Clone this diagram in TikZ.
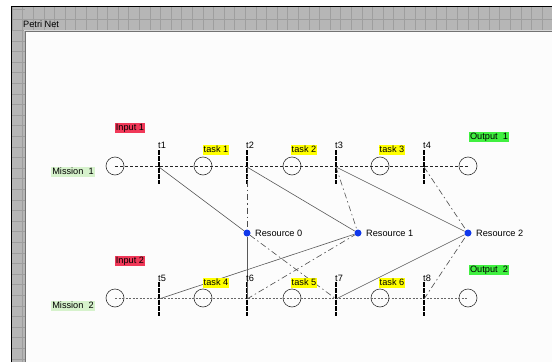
\documentclass[tikz,border=0pt]{standalone}
\usepackage{fontspec}
\setmainfont{Liberation Sans}
\definecolor{panel}{RGB}{182,182,182}
\definecolor{gridc}{RGB}{158,158,158}
\definecolor{inred}{RGB}{240,56,88}
\definecolor{outgreen}{RGB}{64,240,64}
\definecolor{misgreen}{RGB}{214,242,204}
\definecolor{taskyel}{RGB}{255,255,0}
\definecolor{resblue}{RGB}{16,56,235}
\definecolor{paper}{RGB}{252,252,252}
\begin{document}
\begin{tikzpicture}[x=1pt,y=-1pt,font=\fontsize{9.2}{10}\selectfont,
  place/.style={circle,draw=black!80,line width=0.6pt,minimum size=18pt,inner sep=0pt},
  trans/.style={inner sep=0pt,minimum width=3pt,minimum height=33pt},
  tbar/.style={line width=2.8pt,dash pattern=on 4.5pt off 1.5pt},
  res/.style={circle,fill=resblue,minimum size=7pt,inner sep=0pt},
  lab/.style={inner sep=0.8pt,text height=6.8pt,text depth=1.6pt},
  tlab/.style={inner sep=0pt,anchor=south west},
  consume/.style={draw=black!65,line width=0.6pt},
  release/.style={draw=black!70,line width=0.6pt,dash pattern=on 6pt off 3pt on 1.5pt off 3pt},
  row1/.style={draw=black!85,line width=0.6pt,dash pattern=on 3pt off 2pt},
  row2/.style={draw=black!60,line width=0.7pt,dash pattern=on 2pt off 1.5pt}]
\useasboundingbox (0,0) rectangle (552,362);
\fill[white] (0,0) rectangle (552,362);
% panel
\fill[panel] (12,7) rectangle (552,362);
\foreach \i in {0,...,51} {\draw[gridc,line width=0.5pt] ({12+10.6*\i},7) -- ({12+10.6*\i},31);}
\foreach \j in {0,...,33} {\draw[gridc,line width=0.5pt] (12,{9+10.6*\j}) -- (25,{9+10.6*\j});}
\draw[gridc,line width=0.5pt] (12,19) -- (552,19);
\draw[gridc,line width=0.5pt] (22.5,31) -- (22.5,362);
\draw[black,line width=1.4pt] (11.3,362) -- (11.3,6.3) -- (552,6.3);
\node[inner sep=0pt,anchor=west] (title) at (23,24) {Petri Net};
\fill[white!85!black] (24,30) rectangle (552,31);
\fill[paper] (25,31) rectangle (552,362);
\draw[black!55,line width=0.8pt] (25,362) -- (25,31.4) -- (552,31.4);
% row 1
\node[place] (m1) at (115,166) {};
\node[place] (p1) at (203,166) {};
\node[place] (p2) at (292,166) {};
\node[place] (p3) at (380,166) {};
\node[place] (o1) at (468,166) {};
\node[trans] (t1) at (159,167) {};
\node[trans] (t2) at (247,167) {};
\node[trans] (t3) at (336,167) {};
\node[trans] (t4) at (424,167) {};
% row 2
\node[place] (m2) at (115,298) {};
\node[place] (p4) at (203,298) {};
\node[place] (p5) at (292,298) {};
\node[place] (p6) at (380,298) {};
\node[place] (o2) at (468,298) {};
\node[trans] (t5) at (159,299) {};
\node[trans] (t6) at (247,299) {};
\node[trans] (t7) at (336,299) {};
\node[trans] (t8) at (424,299) {};
% resources
\node[res,label={[label distance=1pt]right:Resource 0}] (r0) at (247,233) {};
\node[res,label={[label distance=1pt]right:Resource 1}] (r1) at (358,233) {};
\node[res,label={[label distance=1pt]right:Resource 2}] (r2) at (468,233) {};
% row lines
\draw[row1] (m1.center) -- (o1.center);
\draw[row2] (m2.center) -- (o2.center);
% bars
\foreach \t in {t1,t2,t3,t4,t5,t6,t7,t8} {\draw[tbar] (\t.north) -- (\t.south);}
% arcs
\draw[consume] (t1.center) -- (r0);
\draw[release] (t2.center) -- (r0);
\draw[consume] (t2.center) -- (r1);
\draw[release] (t3.center) -- (r1);
\draw[consume] (t3.center) -- (r2);
\draw[release] (t4.center) -- (r2);
\draw[consume] (t5.center) -- (r1);
\draw[consume] (r0) -- (t6.center);
\draw[release] (t6.center) -- (r1);
\draw[release] (r0) -- (t7.center);
\draw[consume] (t7.center) -- (r2);
\draw[release] (t8.center) -- (r2);
% transition labels
\node[tlab] (lt1) at (158,149) {t1};
\node[tlab] (lt2) at (246,149) {t2};
\node[tlab] (lt3) at (335,149) {t3};
\node[tlab] (lt4) at (423,149) {t4};
\node[tlab] (lt5) at (158,282) {t5};
\node[tlab] (lt6) at (246,282) {t6};
\node[tlab] (lt7) at (335,282) {t7};
\node[tlab] (lt8) at (423,282) {t8};
% coloured labels
\node[lab,fill=misgreen] (lm1) at (73,172) {Mission~~1};
\node[lab,fill=misgreen] (lm2) at (73,306) {Mission~~2};
\node[lab,fill=inred] (li1) at (130,128) {Input 1};
\node[lab,fill=inred] (li2) at (130,261) {Input 2};
\node[lab,fill=outgreen] (lo1) at (489,137) {Output~~1};
\node[lab,fill=outgreen] (lo2) at (489,270) {Output~~2};
\node[lab,fill=taskyel] (lk1) at (216,150) {task 1};
\node[lab,fill=taskyel] (lk2) at (304,150) {task 2};
\node[lab,fill=taskyel] (lk3) at (392,150) {task 3};
\node[lab,fill=taskyel] (lk4) at (216,283) {task 4};
\node[lab,fill=taskyel] (lk5) at (304,283) {task 5};
\node[lab,fill=taskyel] (lk6) at (392,283) {task 6};
\end{tikzpicture}
\end{document}
